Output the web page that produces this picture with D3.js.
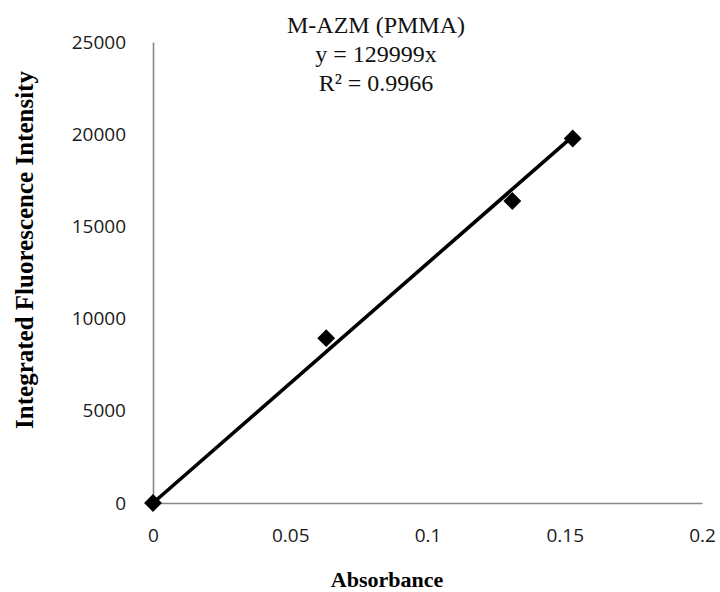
<!DOCTYPE html>
<html>
<head>
<meta charset="utf-8">
<script src="https://cdn.jsdelivr.net/npm/d3@7"></script>
<style>
  html, body { margin: 0; padding: 0; background: #fff; }
  svg { display: block; }
</style>
</head>
<body>
<svg id="chart" width="720" height="592"></svg>
<script>
// Absorbance vs integrated fluorescence intensity for M-AZM in PMMA
const absorbance = [0, 0.0631, 0.1309, 0.1529];
const intensity = [0, 8940, 16380, 19770];
const slope = 129999;
const xTicks = [0, 0.05, 0.1, 0.15, 0.2];
const yTicks = [0, 5000, 10000, 15000, 20000, 25000];
const titleLines = ["M-AZM (PMMA)", "y = 129999x", "R² = 0.9966"];

const svg = d3.select("#chart");
const margin = { left: 153, right: 18, top: 42, bottom: 89 };
const W = 720, H = 592;

const x = d3.scaleLinear().domain([0, 0.2]).range([margin.left, W - margin.right]);
const y = d3.scaleLinear().domain([0, 25000]).range([H - margin.bottom, margin.top]);

const axisColor = "#898989";
const tickFont = "'Open Sans', 'Liberation Sans', sans-serif";
const serif = "'Liberation Serif', 'Times New Roman', serif";

// x axis
const xAxis = svg.append("g")
  .attr("transform", `translate(0,${y(0)})`)
  .call(d3.axisBottom(x).tickValues(xTicks).tickSize(0).tickPadding(26)
    .tickFormat(d => String(d)));
xAxis.select(".domain").attr("stroke", axisColor).attr("stroke-width", 1.6);
xAxis.selectAll("text").attr("font-family", tickFont).attr("font-size", 19).attr("fill", "#1a1a1a");

// y axis
const yAxis = svg.append("g")
  .attr("transform", `translate(${x(0)},0)`)
  .call(d3.axisLeft(y).tickValues(yTicks).tickSize(0).tickPadding(27)
    .tickFormat(d => String(d)));
yAxis.select(".domain").attr("stroke", axisColor).attr("stroke-width", 1.6);
yAxis.selectAll("text").attr("font-family", tickFont).attr("font-size", 19).attr("fill", "#1a1a1a");

// linear trendline through the origin
const xMax = d3.max(absorbance);
svg.append("line")
  .attr("x1", x(0)).attr("y1", y(0))
  .attr("x2", x(xMax)).attr("y2", y(slope * xMax))
  .attr("stroke", "#000").attr("stroke-width", 3.6);

// diamond markers
const diamond = d3.symbol().type(d3.symbolSquare).size(160);
svg.append("g").selectAll("path")
  .data(absorbance.map((a, i) => [a, intensity[i]]))
  .join("path")
  .attr("d", diamond)
  .attr("transform", d => `translate(${x(d[0])},${y(d[1])}) rotate(45)`)
  .attr("fill", "#000");

// title block
svg.append("g").selectAll("text")
  .data(titleLines)
  .join("text")
  .attr("x", 376)
  .attr("y", (d, i) => 33 + i * 29)
  .attr("text-anchor", "middle")
  .attr("font-family", serif)
  .attr("font-size", 24)
  .attr("fill", "#111")
  .text(d => d);

// axis titles
svg.append("text")
  .attr("x", 387).attr("y", 587)
  .attr("text-anchor", "middle")
  .attr("font-family", serif).attr("font-weight", "bold").attr("font-size", 22)
  .text("Absorbance");

svg.append("text")
  .attr("transform", "translate(33,250) rotate(-90)")
  .attr("text-anchor", "middle")
  .attr("font-family", serif).attr("font-weight", "bold").attr("font-size", 25)
  .text("Integrated Fluorescence Intensity");
</script>
</body>
</html>
